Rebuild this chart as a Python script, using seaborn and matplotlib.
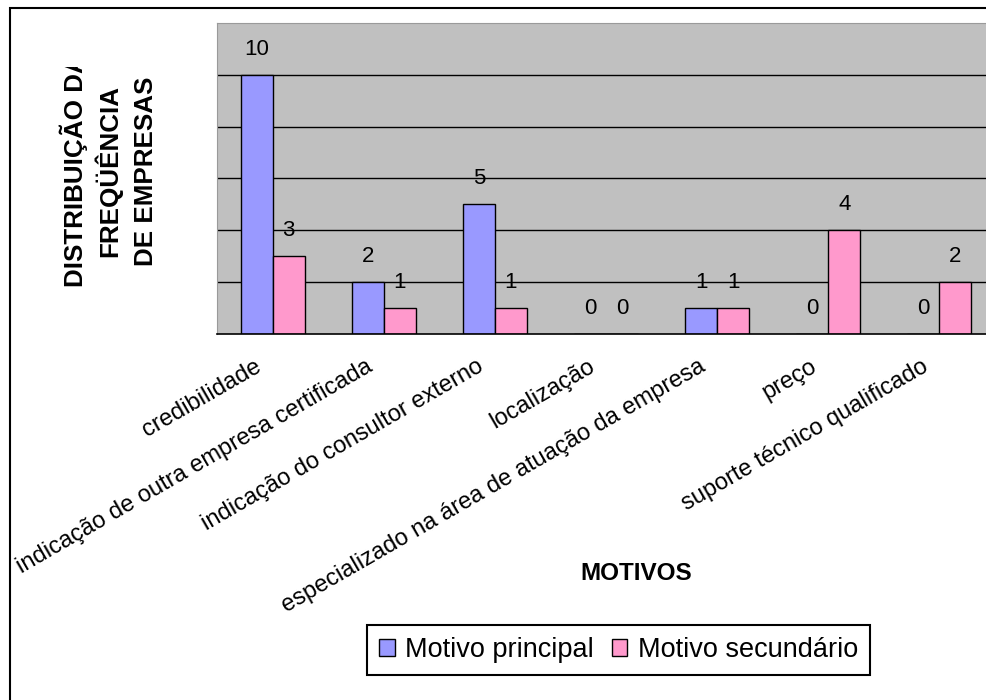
import matplotlib
matplotlib.use("Agg")
import matplotlib.pyplot as plt
from matplotlib.patches import Patch, Rectangle
from matplotlib.transforms import Bbox, TransformedBbox, ScaledTranslation
import numpy as np
import pandas as pd
import seaborn as sns

# --- data -------------------------------------------------------------
motivos = [
    "credibilidade",
    "indicação de outra empresa certificada",
    "indicação do consultor externo",
    "localização",
    "especializado na área de atuação da empresa",
    "preço",
    "suporte técnico qualificado",
]
motivo_principal = [10, 2, 5, 0, 1, 0, 0]
motivo_secundario = [3, 1, 1, 0, 1, 4, 2]
series = ["Motivo principal", "Motivo secundário"]
cores = ["#9999FF", "#FF99CC"]

df = pd.DataFrame({
    "motivo": motivos * 2,
    "valor": motivo_principal + motivo_secundario,
    "serie": [series[0]] * len(motivos) + [series[1]] * len(motivos),
})

# --- style ------------------------------------------------------------
sns.set_style("white")
plt.rcParams["font.family"] = ["Liberation Sans", "DejaVu Sans"]
plt.rcParams["text.color"] = "black"
plt.rcParams["axes.labelcolor"] = "black"
plt.rcParams["xtick.color"] = "black"
plt.rcParams["ytick.color"] = "black"

W, H, DPI = 986, 700, 100
fig = plt.figure(figsize=(W / DPI, H / DPI), dpi=DPI, facecolor="white")

def fx(px):
    return px / W

def fy(py):
    return 1 - py / H

# plot area (extends slightly past the right edge of the canvas)
left, right, top, bottom = 217, 995, 23, 334
ax = fig.add_axes([fx(left), fy(bottom), fx(right - left), (bottom - top) / H])
ax.set_facecolor("#C0C0C0")

sns.barplot(
    data=df, x="motivo", y="valor", hue="serie", order=motivos,
    hue_order=series, palette=cores, width=0.576, gap=0,
    edgecolor="black", linewidth=1.0, saturation=1, ax=ax, legend=False,
    zorder=3,
)

ax.set_xlim(-0.5, len(motivos) - 0.5)
ax.set_ylim(0, 12)
ax.set_yticks([2, 4, 6, 8, 10])
ax.yaxis.grid(True, color="black", linewidth=1.0, zorder=1)
ax.set_axisbelow(True)
ax.tick_params(axis="y", left=False, labelleft=False)
ax.set_ylabel("")
ax.set_xlabel("")

for side in ["left", "top", "right"]:
    ax.spines[side].set_color("#9A9A9A")
    ax.spines[side].set_linewidth(0.8)
ax.spines["bottom"].set_color("black")
ax.spines["bottom"].set_linewidth(1.2)
ax.spines["bottom"].set_zorder(5)

# category boundaries get the tick marks, centres get the labels
ax.set_xticks(np.arange(len(motivos)))
ax.set_xticks(np.arange(len(motivos) + 1) - 0.5, minor=True)
ax.tick_params(axis="x", which="minor", direction="out", length=4.5,
               width=1.0, color="black")
ax.tick_params(axis="x", which="major", length=0, pad=26)
ax.set_xticklabels(motivos, rotation=30, ha="right", va="baseline",
                   rotation_mode="anchor", fontsize=17, color="black")
shift = ScaledTranslation(-10 / DPI, 0, fig.dpi_scale_trans)
for lbl in ax.get_xticklabels():
    lbl.set_transform(lbl.get_transform() + shift)

# value labels above every bar
for cont, vals in zip(ax.containers, [motivo_principal, motivo_secundario]):
    for rect, v in zip(cont, vals):
        ax.annotate(
            str(v), (rect.get_x() + rect.get_width() / 2, rect.get_height()),
            xytext=(0, 14.4), textcoords="offset points",
            ha="center", va="baseline", fontsize=16, color="black",
            zorder=6,
        )

# vertical axis title in three lines, the first one cut at the top
titulo = ["DISTRIBUIÇÃO DA", "FREQÜÊNCIA", "DE EMPRESAS"]
xs = [83, 117, 153]
clip = TransformedBbox(Bbox([[0, 0], [1, fy(67)]]), fig.transFigure)
for i, (txt, x) in enumerate(zip(titulo, xs)):
    t = fig.text(fx(x), fy(171), txt, rotation=90, rotation_mode="anchor",
                 ha="center", va="baseline", fontsize=18.7,
                 fontweight="bold", color="black")
    if i == 0:
        t.set_clip_box(clip)
        t.set_clip_on(True)

fig.text(fx(636), fy(574), "MOTIVOS", ha="center", va="center",
         fontsize=17.5, fontweight="bold", color="black")

handles = [Patch(facecolor=c, edgecolor="black", linewidth=1.0) for c in cores]
leg = fig.legend(
    handles, series, loc="center", bbox_to_anchor=(fx(618.5), fy(650)),
    ncol=2, fontsize=19.5, frameon=True, fancybox=False, framealpha=1,
    edgecolor="black", handlelength=0.57, handleheight=0.57,
    handletextpad=0.38, columnspacing=0.68, borderpad=0.45,
    borderaxespad=0, labelcolor="black",
)
leg.get_frame().set_linewidth(1.5)

# outer chart border
fig.patches.append(Rectangle((fx(10), -0.05), 1.2, fy(8) + 0.05,
                             transform=fig.transFigure, fill=False,
                             edgecolor="black", linewidth=1.5))

fig.savefig("out.png", dpi=DPI, facecolor="white")
